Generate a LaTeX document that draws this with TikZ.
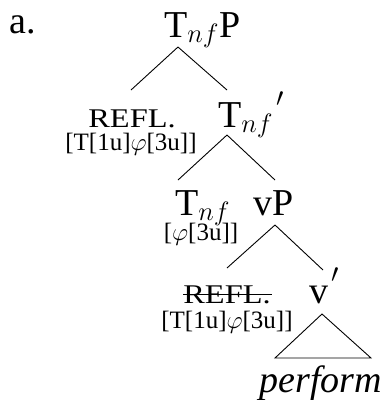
\RequirePackage{fix-cm}
\documentclass[tikz,border=0pt]{standalone}
\usepackage{fontspec}
\setmainfont{Liberation Serif}
\usetikzlibrary{calc}
\newcommand{\barcat}[1]{#1\hspace{3pt}\raisebox{7pt}{$'$}}
\tikzset{
  cat/.style={inner sep=0pt, font=\fontsize{38}{40}\selectfont},
  feat/.style={inner sep=0pt, anchor=base, font=\fontsize{25}{27}\selectfont},
  refl/.style={inner sep=0pt, anchor=base, font=\fontsize{27}{29}\selectfont},
  branch/.style={line width=0.9pt}
}
\begin{document}
\begin{tikzpicture}[x=1pt,y=-1pt]
  \useasboundingbox (0,0) rectangle (387,400);
  \node[cat,anchor=base west] (ex) at (9,33) {a.};
  \node[cat,anchor=base west] (tp) at (164,37) {T$_{nf}$P};
  \node[refl] (refl1) at (132,127) {\scalebox{1.2}[1]{REFL.}};
  \node[feat] (feat1) at (131,150) {[T[1u]$\varphi$[3u]]};
  \node[cat,anchor=base west] (tbar) at (218,127) {\barcat{T$_{nf}$}};
  \node[cat,anchor=base west] (tnf) at (175,215) {T$_{nf}$};
  \node[feat] (feat2) at (201,240) {[$\varphi$[3u]]};
  \node[cat,anchor=base] (vp) at (274,215) {vP};
  \node[refl] (refl2) at (227,303) {\scalebox{1.2}[1]{REFL.}};
  \node[feat] (feat3) at (227,328) {[T[1u]$\varphi$[3u]]};
  \node[cat,anchor=base west] (vbar) at (309,303) {\barcat{v}};
  \node[cat,anchor=base] (verb) at (321,392) {\itshape perform};
  \draw[branch] ($(tp.base west)+(14,10)$) -- ($(refl1.base)+(-1,-37)$);
  \draw[branch] ($(tp.base west)+(14,10)$) -- ($(tbar.base west)+(9,-37)$);
  \draw[branch] ($(tbar.base west)+(9,8)$) -- ($(tnf.base west)+(3,-35)$);
  \draw[branch] ($(tbar.base west)+(9,8)$) -- ($(vp.base)+(1,-35)$);
  \draw[branch] ($(vp.base)+(1,10)$) -- ($(refl2.base)+(0,-35)$);
  \draw[branch] ($(vp.base)+(1,10)$) -- ($(vbar.base west)+(14,-33)$);
  \draw[branch] ($(refl2.base west)+(0,-9)$) -- ($(refl2.base east)+(1,-9)$);
  \draw[branch] ($(vbar.base west)+(13,11)$) -- ++(-47,44) -- ++(96,0) -- cycle;
\end{tikzpicture}
\end{document}
